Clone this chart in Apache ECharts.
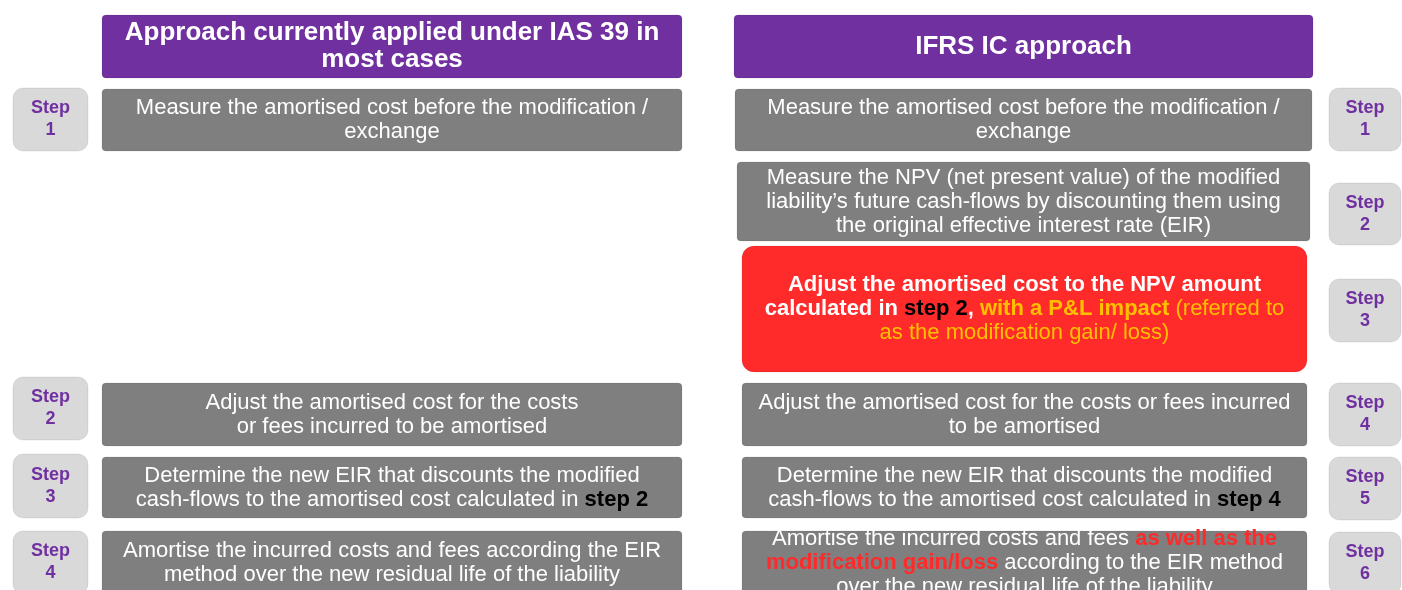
<!DOCTYPE html>
<html>
<head>
<meta charset="utf-8">
<script src="https://cdn.jsdelivr.net/npm/echarts@6/dist/echarts.min.js"></script>
<style>
  html, body { margin: 0; padding: 0; background: #fff; }
  #chart { width: 1402px; height: 590px; }
</style>
</head>
<body>
<div id="chart"></div>
<script>
// texts
const headerTexts = [
    'Approach currently applied under IAS 39 in\nmost cases',
    'IFRS IC approach'
];
const leftTexts = [
    'Measure the amortised cost before the modification /\nexchange',
    'Adjust the amortised cost for the costs\nor fees incurred to be amortised',
    'Determine the new EIR that discounts the modified\ncash-flows to the amortised cost calculated in {k|step 2}',
    'Amortise the incurred costs and fees according the EIR\nmethod over the new residual life of the liability'
];
const rightTexts = [
    'Measure the amortised cost before the modification /\nexchange',
    'Measure the NPV (net present value) of the modified\nliability\u2019s future cash-flows by discounting them using\nthe original effective interest rate (EIR)',
    '{b|Adjust the amortised cost to the NPV amount}\n{b|calculated in }{k|step 2}{b|, }{ob|with a P&L impact}{o| (referred to}\n{o|as the modification gain/ loss)}',
    'Adjust the amortised cost for the costs or fees incurred\nto be amortised',
    'Determine the new EIR that discounts the modified\ncash-flows to the amortised cost calculated in {k|step 4}',
    'Amortise the incurred costs and fees {r|as well as the}\n{r|modification gain/loss} according to the EIR method\nover the new residual life of the liability'
];
const leftSteps = [1, 2, 3, 4];
const rightSteps = [1, 2, 3, 4, 5, 6];

// layout, in page units: [x0, y0, x1, y1]
const headerBoxes = [[102, 15, 682, 78], [734, 15, 1313, 78]];
const leftBoxes = [[102, 89, 682, 151], [102, 383, 682, 446], [102, 457, 682, 518], [102, 531, 682, 594]];
const rightBoxes = [[735, 89, 1312, 151], [737, 162, 1310, 241], [742, 246, 1307, 372], [742, 383, 1307, 446], [742, 457, 1307, 518], [742, 531, 1307, 594]];
const leftBadges = [[13, 88, 88, 151], [13, 377, 88, 440], [13, 454, 88, 518], [13, 531, 88, 594]];
const rightBadges = [[1329, 88, 1401, 151], [1329, 183, 1401, 245], [1329, 279, 1401, 342], [1329, 383, 1401, 446], [1329, 457, 1401, 520], [1329, 532, 1401, 594]];

const FONT = '"Liberation Sans", Arial, sans-serif';
const PURPLE = '#7030A0';
const GREY = '#7F7F7F';
const RED = '#FF2A2A';
const BADGE = '#D9D9D9';

const tok = (color, weight) => ({ fill: color, fontSize: 22, fontFamily: FONT, fontWeight: weight, lineHeight: 24 });
const bodyRich = {
    b: tok('#fff', 'bold'),
    k: tok('#000', 'bold'),
    ob: tok('#FFC000', 'bold'),
    o: tok('#FFC000', 'normal'),
    r: tok(RED, 'bold')
};

function boxItem(api, box, fill, r, text, textStyle) {
    const p0 = api.coord([box[0], box[1]]);
    const p1 = api.coord([box[2], box[3]]);
    const w = p1[0] - p0[0], h = p1[1] - p0[1];
    return {
        type: 'group',
        children: [
            {
                type: 'rect',
                shape: { x: p0[0], y: p0[1], width: w, height: h, r: r },
                style: { fill: fill, stroke: 'rgba(0,0,0,0.08)', lineWidth: 1 }
            },
            {
                type: 'text',
                style: Object.assign({
                    x: p0[0] + w / 2,
                    y: p0[1] + h / 2,
                    text: text,
                    align: 'center',
                    verticalAlign: 'middle',
                    fontFamily: FONT
                }, textStyle)
            }
        ]
    };
}

function makeSeries(name, boxes, render) {
    return {
        name: name,
        type: 'custom',
        coordinateSystem: 'cartesian2d',
        clip: false,
        silent: true,
        data: boxes,
        renderItem: (params, api) => render(params.dataIndex, api, boxes[params.dataIndex])
    };
}

const bodyStyle = { fill: '#fff', fontSize: 22, fontWeight: 'normal', lineHeight: 24, rich: bodyRich };
const badgeStyle = { fill: PURPLE, fontSize: 18, fontWeight: 'bold', lineHeight: 22 };

const chart = echarts.init(document.getElementById('chart'));
chart.setOption({
    animation: false,
    grid: { left: 0, right: 0, top: 0, bottom: 0 },
    xAxis: { type: 'value', min: 0, max: 1402, show: false },
    yAxis: { type: 'value', min: 0, max: 590, inverse: true, show: false },
    series: [
        makeSeries('headers', headerBoxes, (i, api, b) =>
            boxItem(api, b, PURPLE, 4, headerTexts[i], { fill: '#fff', fontSize: 26, fontWeight: 'bold', lineHeight: 27 })),
        makeSeries('left', leftBoxes, (i, api, b) =>
            boxItem(api, b, GREY, 4, leftTexts[i], bodyStyle)),
        makeSeries('right', rightBoxes, (i, api, b) =>
            boxItem(api, b, i === 2 ? RED : GREY, i === 2 ? 12 : 4, rightTexts[i], bodyStyle)),
        makeSeries('leftSteps', leftBadges, (i, api, b) =>
            boxItem(api, b, BADGE, 10, 'Step\n' + leftSteps[i], badgeStyle)),
        makeSeries('rightSteps', rightBadges, (i, api, b) =>
            boxItem(api, b, BADGE, 10, 'Step\n' + rightSteps[i], badgeStyle))
    ]
});
</script>
</body>
</html>
